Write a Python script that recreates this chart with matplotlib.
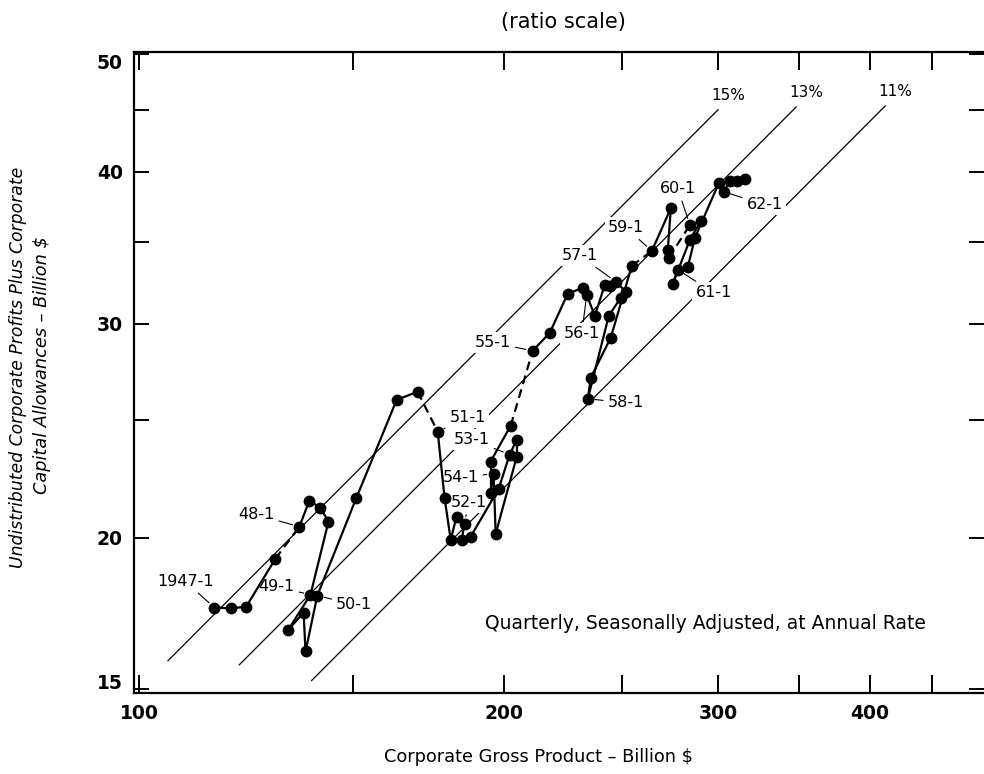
"""Undistributed corporate profits plus capital allowances vs corporate gross product."""
import matplotlib
matplotlib.use("Agg")
import matplotlib.pyplot as plt

plt.rcParams["font.family"] = ["DejaVu Sans"]

# ---------------------------------------------------------------------------
# Quarterly series, 1947-I .. 1962-IV (billion $, seasonally adjusted)
# ---------------------------------------------------------------------------
quarters = [
    "1947-1", "1947-2", "1947-3", "1947-4",
    "1948-1", "1948-2", "1948-3", "1948-4",
    "1949-1", "1949-2", "1949-3", "1949-4",
    "1950-1", "1950-2", "1950-3", "1950-4",
    "1951-1", "1951-2", "1951-3", "1951-4",
    "1952-1", "1952-2", "1952-3", "1952-4",
    "1953-1", "1953-2", "1953-3", "1953-4",
    "1954-1", "1954-2", "1954-3", "1954-4",
    "1955-1", "1955-2", "1955-3", "1955-4",
    "1956-1", "1956-2", "1956-3", "1956-4",
    "1957-1", "1957-2", "1957-3", "1957-4",
    "1958-1", "1958-2", "1958-3", "1958-4",
    "1959-1", "1959-2", "1959-3", "1959-4",
    "1960-1", "1960-2", "1960-3", "1960-4",
    "1961-1", "1961-2", "1961-3", "1961-4",
    "1962-1", "1962-2", "1962-3", "1962-4",
]
gross_product = [
    115.3, 119.1, 122.5, 129.5,
    135.5, 138.1, 141.0, 143.2,
    138.4, 132.7, 136.6, 137.1,
    140.2, 151.0, 163.0, 169.6,
    176.2, 178.5, 180.6, 182.6,
    185.4, 184.4, 187.6, 197.8,
    202.0, 204.7, 204.7, 196.7,
    195.9, 194.8, 194.8, 202.4,
    211.0, 218.0, 225.5, 232.1,
    233.8, 237.4, 242.0, 244.5,
    247.1, 251.8, 249.4, 243.8,
    234.3, 235.6, 244.7, 254.7,
    264.6, 274.3, 272.7, 273.2,
    284.4, 290.4, 284.4, 275.3,
    277.9, 283.3, 287.1, 300.5,
    303.3, 306.8, 310.9, 315.7,
]
profits_allow = [
    17.52, 17.49, 17.55, 19.22,
    20.42, 21.45, 21.17, 20.62,
    17.95, 16.80, 17.35, 16.12,
    17.92, 21.57, 25.97, 26.37,
    24.45, 21.57, 19.92, 20.81,
    20.54, 19.92, 20.04, 21.94,
    23.41, 24.08, 23.31, 20.15,
    22.58, 21.78, 23.10, 24.73,
    28.50, 29.49, 31.75, 32.11,
    31.69, 30.45, 32.30, 32.20,
    32.48, 31.87, 31.51, 30.45,
    26.02, 27.08, 29.21, 33.48,
    34.44, 37.35, 34.51, 33.99,
    36.17, 36.45, 35.17, 32.36,
    33.23, 33.42, 35.30, 39.18,
    38.52, 39.33, 39.33, 39.47,
]
# connections drawn broken (from this quarter to the next)
dashed_from = ["1947-4", "1950-4", "1954-4", "1958-4", "1959-4"]

# labelled quarters
point_labels = ["1947-1", "48-1", "49-1", "50-1", "51-1", "52-1", "53-1", "54-1",
                "55-1", "56-1", "57-1", "58-1", "59-1", "60-1", "61-1", "62-1"]
label_quarters = ["1947-1", "1948-1", "1949-1", "1950-1", "1951-1", "1952-1",
                  "1953-1", "1954-1", "1955-1", "1956-1", "1957-1", "1958-1",
                  "1959-1", "1960-1", "1961-1", "1962-1"]

# ratio of profits+allowances to gross product
ratio_values = [0.15, 0.13, 0.11]
ratio_labels = ["15%", "13%", "11%"]
ratio_x_start = [105.6, 120.9, 138.7]
ratio_x_end = [300.0, 348.0, 412.0]

x_ticks = [100, 150, 200, 250, 300, 350, 400, 450]
x_tick_labels = ["100", "", "200", "", "300", "", "400", ""]
y_ticks = [15, 20, 25, 30, 35, 40, 45, 50]
y_tick_labels = ["15", "20", "", "30", "", "40", "", "50"]

# label text offsets (pixels from the point)
label_offsets = [(-29, 26), (-43, 12), (-34, 8), (37, -9), (30, 14), (4, 21),
                 (-38, 15), (-33, -4), (-40, 8), (-5, -39), (-36, 26), (38, -4),
                 (-26, 23), (-12, 36), (36, -23), (41, -13)]

fig = plt.figure(figsize=(9.84, 7.74), dpi=100)
ax = fig.add_axes([134 / 984, 81 / 774, 850 / 984, 641 / 774])
ax.set_xscale("log")
ax.set_yscale("log")
ax.set_xlim(99.0, 497.0)
ax.set_ylim(14.9, 50.2)

# ratio reference lines
for r, lab, x0, x1 in zip(ratio_values, ratio_labels, ratio_x_start, ratio_x_end):
    ax.plot([x0, x1], [r * x0, r * x1], color="black", lw=0.9, zorder=1)
    ax.annotate(lab, (x1, r * x1), xytext=(10, 14), textcoords="offset pixels",
                ha="center", va="center", fontsize=11)

# data path
for i in range(len(quarters) - 1):
    ls = (0, (4, 2.5)) if quarters[i] in dashed_from else "-"
    ax.plot(gross_product[i:i + 2], profits_allow[i:i + 2], color="black",
            lw=1.6, ls=ls, zorder=3, solid_capstyle="round")
ax.plot(gross_product, profits_allow, "o", color="black", ms=7.5, zorder=4)

# point labels with leader lines
for lab, q, off in zip(point_labels, label_quarters, label_offsets):
    i = quarters.index(q)
    ax.annotate(lab, (gross_product[i], profits_allow[i]), xytext=off,
                textcoords="offset pixels", ha="center", va="center",
                fontsize=11.5, zorder=2,
                bbox=dict(boxstyle="square,pad=0.2", fc="white", ec="none"),
                arrowprops=dict(arrowstyle="-", lw=0.8, color="black",
                                shrinkA=1, shrinkB=5))

ax.text((485 - 134) / 850, 0.108,
        "Quarterly, Seasonally Adjusted, at Annual Rate",
        transform=ax.transAxes, fontsize=13.5, ha="left", va="center")

# axes frame and ticks
for sp in ax.spines.values():
    sp.set_linewidth(1.6)
ax.spines["right"].set_visible(False)
ax.xaxis.set_major_locator(plt.FixedLocator(x_ticks))
ax.xaxis.set_major_formatter(plt.FixedFormatter(x_tick_labels))
ax.xaxis.set_minor_locator(plt.NullLocator())
ax.yaxis.set_major_locator(plt.FixedLocator(y_ticks))
ax.yaxis.set_major_formatter(plt.FixedFormatter(y_tick_labels))
ax.yaxis.set_minor_locator(plt.NullLocator())
ax.tick_params(which="major", direction="in", length=13, width=1.4,
               top=True, right=True, labelsize=13.5, pad=8)
ax.tick_params(axis="y", which="major", right=True, length=11)
for t in ax.get_xticklabels() + ax.get_yticklabels():
    t.set_fontweight("bold")
ylabels = ax.get_yticklabels()
ylabels[-1].set_verticalalignment("top")
ylabels[0].set_verticalalignment("baseline")

fig.text(563 / 984, 1 - 22 / 774, "(ratio scale)", ha="center", va="center",
         fontsize=15)
fig.text(538 / 984, 1 - 757 / 774, "Corporate Gross Product \u2013 Billion $",
         ha="center", va="center", fontsize=12.8)
fig.text(18 / 984, 1 - 367 / 774, "Undistributed Corporate Profits Plus Corporate",
         ha="center", va="center", rotation=90, fontsize=12.4, style="italic")
fig.text(42 / 984, 1 - 365 / 774, "Capital Allowances \u2013 Billion $",
         ha="center", va="center", rotation=90, fontsize=12.8, style="italic")

fig.savefig("out.png", dpi=100)
